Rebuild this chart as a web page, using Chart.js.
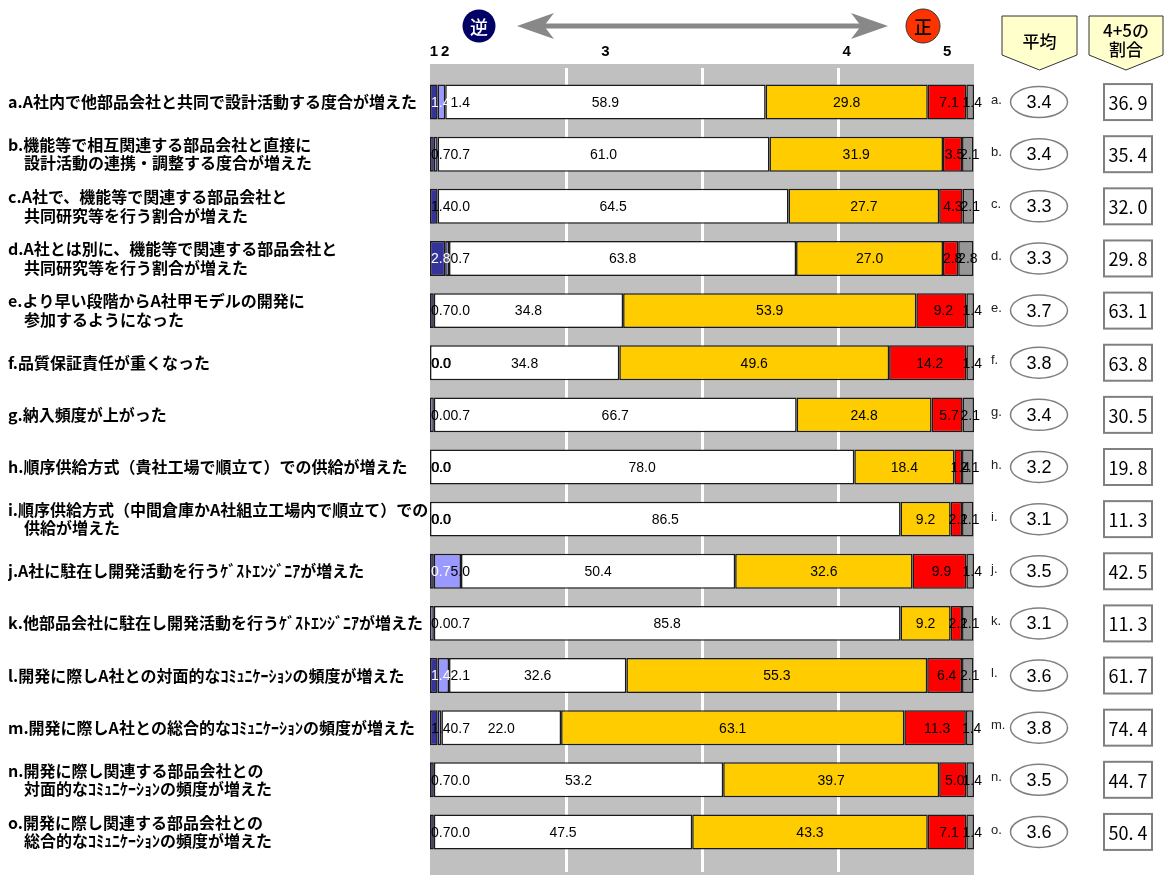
<!DOCTYPE html>
<html lang="ja">
<head>
<meta charset="utf-8">
<script src="https://cdn.jsdelivr.net/npm/chart.js@4.4.1/dist/chart.umd.min.js"></script>
<style>
  html, body { margin: 0; padding: 0; background: #fff; }
  #wrap { position: relative; width: 1164px; height: 875px; }
</style>
</head>
<body>
<div id="wrap"><canvas id="chart"></canvas></div>
<script>
// 設問
const categories = [
    'a.A社内で他部品会社と共同で設計活動する度合が増えた',
    ['b.機能等で相互関連する部品会社と直接に', '\u3000設計活動の連携・調整する度合が増えた'],
    ['c.A社で、機能等で関連する部品会社と', '\u3000共同研究等を行う割合が増えた'],
    ['d.A社とは別に、機能等で関連する部品会社と', '\u3000共同研究等を行う割合が増えた'],
    ['e.より早い段階からA社甲モデルの開発に', '\u3000参加するようになった'],
    'f.品質保証責任が重くなった',
    'g.納入頻度が上がった',
    'h.順序供給方式（貴社工場で順立て）での供給が増えた',
    ['i.順序供給方式（中間倉庫かA社組立工場内で順立て）での', '\u3000供給が増えた'],
    'j.A社に駐在し開発活動を行うｹﾞｽﾄｴﾝｼﾞﾆｱが増えた',
    'k.他部品会社に駐在し開発活動を行うｹﾞｽﾄｴﾝｼﾞﾆｱが増えた',
    'l.開発に際しA社との対面的なｺﾐｭﾆｹｰｼｮﾝの頻度が増えた',
    'm.開発に際しA社との総合的なｺﾐｭﾆｹｰｼｮﾝの頻度が増えた',
    ['n.開発に際し関連する部品会社との', '\u3000対面的なｺﾐｭﾆｹｰｼｮﾝの頻度が増えた'],
    ['o.開発に際し関連する部品会社との', '\u3000総合的なｺﾐｭﾆｹｰｼｮﾝの頻度が増えた']
];
const rowKeys = ['a.', 'b.', 'c.', 'd.', 'e.', 'f.', 'g.', 'h.', 'i.', 'j.', 'k.', 'l.', 'm.', 'n.', 'o.'];

// 回答の割合（%）
const score1 = [1.4, 0.7, 1.4, 2.8, 0.7, 0.0, 0.0, 0.0, 0.0, 0.7, 0.0, 1.4, 1.4, 0.7, 0.7];
const score2 = [1.4, 0.7, 0.0, 0.7, 0.0, 0.0, 0.7, 0.0, 0.0, 5.0, 0.7, 2.1, 0.7, 0.0, 0.0];
const score3 = [58.9, 61.0, 64.5, 63.8, 34.8, 34.8, 66.7, 78.0, 86.5, 50.4, 85.8, 32.6, 22.0, 53.2, 47.5];
const score4 = [29.8, 31.9, 27.7, 27.0, 53.9, 49.6, 24.8, 18.4, 9.2, 32.6, 9.2, 55.3, 63.1, 39.7, 43.3];
const score5 = [7.1, 3.5, 4.3, 2.8, 9.2, 14.2, 5.7, 1.4, 2.1, 9.9, 2.1, 6.4, 11.3, 5.0, 7.1];
const noAnswer = [1.4, 2.1, 2.1, 2.8, 1.4, 1.4, 2.1, 2.1, 2.1, 1.4, 2.1, 2.1, 1.4, 1.4, 1.4];

// 平均と4+5の割合
const averages = [3.4, 3.4, 3.3, 3.3, 3.7, 3.8, 3.4, 3.2, 3.1, 3.5, 3.1, 3.6, 3.8, 3.5, 3.6];
const share45 = [36.9, 35.4, 32.0, 29.8, 63.1, 63.8, 30.5, 19.8, 11.3, 42.5, 11.3, 61.7, 74.4, 44.7, 50.4];

const scaleLabels = ['1', '2', '3', '4', '5'];
const gridValues = [25, 50, 75];

const segColors = ['#333399', '#9999ff', '#ffffff', '#ffcc00', '#ff0000', '#969696'];
const numFont = "'Liberation Sans Narrow', 'Liberation Sans', sans-serif";
const jpFont = "'Noto Sans CJK JP', 'Noto Sans', sans-serif";

// 背景の灰色の帯と白い区切り線
const backdropPlugin = {
    id: 'backdrop',
    beforeDraw(chart) {
        const c = chart.ctx;
        const area = chart.chartArea;
        const x = chart.scales.x;
        c.save();
        c.fillStyle = '#c0c0c0';
        c.fillRect(area.left, 64, area.right - area.left, 875 - 64);
        c.strokeStyle = '#ffffff';
        c.lineWidth = 3;
        gridValues.forEach(v => {
            const px = Math.round(x.getPixelForValue(v)) + 0.5;
            c.beginPath();
            c.moveTo(px, 68);
            c.lineTo(px, 872);
            c.stroke();
        });
        c.restore();
    }
};

// 棒の中の数値
const barLabelPlugin = {
    id: 'barLabels',
    afterDatasetsDraw(chart) {
        const c = chart.ctx;
        const left = chart.chartArea.left;
        c.save();
        c.textBaseline = 'middle';
        c.font = '14px ' + numFont;
        categories.forEach((_, i) => {
            const segs = chart.data.datasets.map((ds, d) => {
                const el = chart.getDatasetMeta(d).data[i];
                return { x0: Math.min(el.base, el.x), x1: Math.max(el.base, el.x), y: el.y, v: ds.data[i] };
            });
            const y = segs[0].y + 1;

            // 左端の小さい2区分は左から順に並べる
            const t1 = segs[0].v.toFixed(1);
            const t2 = segs[1].v.toFixed(1);
            const w1 = c.measureText(t1).width;
            const w2 = c.measureText(t2).width;
            const x1 = Math.max((segs[0].x0 + segs[0].x1) / 2 - w1 / 2, left + 1);
            let x2 = Math.max((segs[1].x0 + segs[1].x1) / 2 - w2 / 2, left + 1);
            c.textAlign = 'left';
            if (segs[0].v === 0 && segs[1].v === 0) {
                c.fillStyle = '#000';
                c.fillText(t1, x1, y);
                c.fillText(t2, x1 + 0.7, y);
            } else {
                if (x2 < x1 + w1) x2 = x1 + w1;
                c.fillStyle = (segs[0].v + segs[1].v >= 2.5) ? '#ffffff' : '#000';
                c.fillText(t1, x1, y);
                c.fillStyle = '#000';
                c.fillText(t2, x2, y);
            }

            // 残りは区分の中央
            c.textAlign = 'center';
            c.fillStyle = '#000';
            for (let d = 2; d < segs.length; d++) {
                const cx = (segs[d].x0 + segs[d].x1) / 2 + (d >= 4 ? 2 : 0);
                c.fillText(segs[d].v.toFixed(1), cx, y);
            }
        });
        c.restore();
    }
};

// 上の矢印、見出し、右側の平均と割合
const sidePlugin = {
    id: 'sideInfo',
    afterDraw(chart) {
        const c = chart.ctx;
        c.save();

        // 1〜5 の目盛り（a行の各区分の中央）
        c.font = 'bold 15px ' + numFont;
        c.fillStyle = '#000';
        c.textBaseline = 'middle';
        c.textAlign = 'center';
        let prevRight = -Infinity;
        scaleLabels.forEach((lab, d) => {
            const el = chart.getDatasetMeta(d).data[0];
            const w = c.measureText(lab).width;
            let cx = (el.base + el.x) / 2;
            if (cx - w / 2 < prevRight + 3) cx = prevRight + 3 + w / 2;
            c.fillText(lab, cx, 52);
            prevRight = cx + w / 2;
        });

        // 両矢印
        const ay = 26, ax0 = 517, ax1 = 888;
        c.fillStyle = '#888888';
        c.fillRect(ax0 + 24, ay - 2.5, ax1 - ax0 - 48, 5);
        [[ax0, 1], [ax1, -1]].forEach(([tip, dir]) => {
            c.beginPath();
            c.moveTo(tip, ay);
            c.lineTo(tip + dir * 37, ay - 13);
            c.lineTo(tip + dir * 27, ay);
            c.lineTo(tip + dir * 37, ay + 13);
            c.closePath();
            c.fill();
        });

        // 逆・正 の丸
        c.beginPath();
        c.arc(479, 26, 16.5, 0, Math.PI * 2);
        c.fillStyle = '#000066';
        c.fill();
        c.fillStyle = '#ffffff';
        c.font = '500 18px ' + jpFont;
        c.fillText('逆', 479, 27);

        c.beginPath();
        c.arc(923, 26, 17, 0, Math.PI * 2);
        c.fillStyle = '#ff3300';
        c.fill();
        c.strokeStyle = '#333';
        c.lineWidth = 1;
        c.stroke();
        c.fillStyle = '#000';
        c.fillText('正', 923, 27);

        // 見出しの五角形
        const heads = [
            { x0: 1002, x1: 1077, lines: ['平均'], ys: [42] },
            { x0: 1089, x1: 1163, lines: ['4+5の', '割合'], ys: [31, 50] }
        ];
        heads.forEach(h => {
            const mid = (h.x0 + h.x1) / 2;
            c.beginPath();
            c.moveTo(h.x0, 16);
            c.lineTo(h.x1, 16);
            c.lineTo(h.x1, 55);
            c.lineTo(mid, 70);
            c.lineTo(h.x0, 55);
            c.closePath();
            c.fillStyle = '#ffffcc';
            c.fill();
            c.strokeStyle = '#333';
            c.lineWidth = 1;
            c.stroke();
            c.fillStyle = '#000';
            c.font = '500 17px ' + jpFont;
            h.lines.forEach((t, k) => c.fillText(t, mid, h.ys[k]));
        });

        // 各行の記号・平均・割合
        const meta = chart.getDatasetMeta(0);
        rowKeys.forEach((key, i) => {
            const y = meta.data[i].y;
            c.textAlign = 'left';
            c.fillStyle = '#222';
            c.font = '13px ' + numFont;
            c.fillText(key, 991, y - 2);

            c.beginPath();
            c.ellipse(1039, y, 28.5, 15.5, 0, 0, Math.PI * 2);
            c.fillStyle = '#fff';
            c.fill();
            c.strokeStyle = '#808080';
            c.lineWidth = 1.5;
            c.stroke();
            c.fillStyle = '#000';
            c.textAlign = 'center';
            c.font = '18px ' + numFont;
            c.fillText(averages[i].toFixed(1), 1039, y + 1);

            c.fillStyle = '#fff';
            c.fillRect(1104, y - 18, 48, 36);
            c.strokeStyle = '#808080';
            c.lineWidth = 2;
            c.strokeRect(1104, y - 18, 48, 36);
            c.fillStyle = '#000';
            c.font = '18px ' + jpFont;
            c.fillText(share45[i].toFixed(1).replace('.', '. '), 1128, y + 1);
        });
        c.restore();
    }
};

const seriesList = [score1, score2, score3, score4, score5, noAnswer];
const datasets = seriesList.map((arr, d) => ({
    label: String(d + 1),
    data: arr,
    backgroundColor: segColors[d],
    borderColor: '#1a1a1a',
    borderWidth: 1.5,
    borderSkipped: false,
    barPercentage: 0.67,
    categoryPercentage: 1.0
}));

new Chart(document.getElementById('chart'), {
    type: 'bar',
    data: { labels: categories, datasets: datasets },
    options: {
        indexAxis: 'y',
        responsive: true,
        maintainAspectRatio: false,
        animation: false,
        layout: { padding: { left: 8, top: 68, right: 190, bottom: 17 } },
        plugins: {
            legend: { display: false },
            tooltip: { enabled: false }
        },
        scales: {
            x: {
                stacked: true,
                min: 0,
                max: 100,
                position: 'top',
                ticks: { display: false },
                grid: { display: false },
                border: { display: false }
            },
            y: {
                stacked: true,
                grid: { display: false },
                border: { display: false },
                ticks: {
                    autoSkip: false,
                    crossAlign: 'far',
                    padding: 0,
                    color: '#000',
                    font: { family: jpFont, size: 16, weight: 'bold', lineHeight: 1.15 }
                },
                afterFit(scale) { scale.width = 422; }
            }
        }
    },
    plugins: [backdropPlugin, barLabelPlugin, sidePlugin]
});
</script>
</body>
</html>
